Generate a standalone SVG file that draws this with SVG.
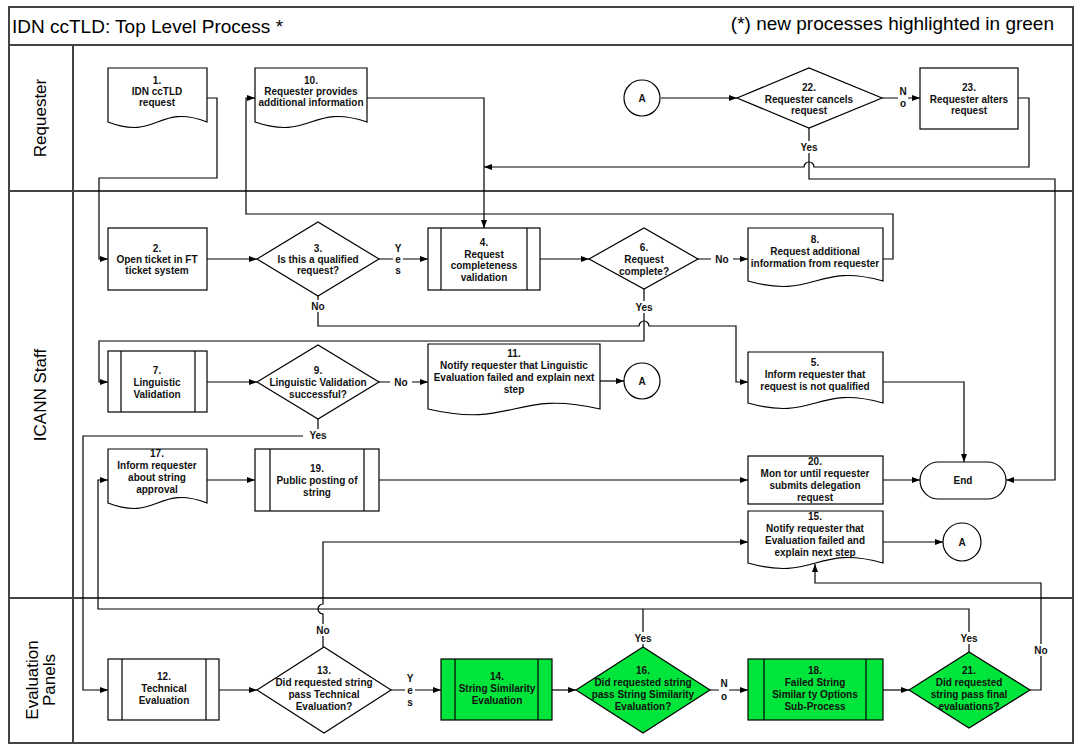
<svg xmlns="http://www.w3.org/2000/svg" width="1074" height="745" viewBox="0 0 1074 745">
<style>
.nd{fill:#fff;stroke:#000;stroke-width:1.2}
.gr{fill:#00e53b;stroke:#000;stroke-width:1.2}
.bar{fill:none;stroke:#000;stroke-width:1.2}
.ln{fill:none;stroke:#000;stroke-width:1.2}
.lane{stroke:#444;stroke-width:2;fill:none}
.t{font-family:"Liberation Sans",Arial,sans-serif;font-size:10px;font-weight:bold;text-anchor:middle;fill:#111}
.lb{fill:#fff;stroke:none}
.big{font-family:"Liberation Sans",Arial,sans-serif;font-size:19px;fill:#000}
.lanet{font-family:"Liberation Sans",Arial,sans-serif;font-size:17px;fill:#000;text-anchor:middle}
</style>
<defs>
<marker id="ah" viewBox="0 0 8 6" refX="8" refY="3" markerWidth="8" markerHeight="6" markerUnits="userSpaceOnUse" orient="auto"><path d="M0,0 L8,3 L0,6 z" fill="#000"/></marker>
</defs>
<rect x="0" y="0" width="1074" height="745" fill="#fff"/>
<g id="frame">
<rect x="9" y="7" width="1064" height="736" class="lane"/>
<line x1="9" y1="45" x2="1073" y2="45" class="lane"/>
<line x1="9" y1="191" x2="1073" y2="191" class="lane"/>
<line x1="9" y1="598" x2="1073" y2="598" class="lane"/>
<line x1="73" y1="45" x2="73" y2="743" class="lane"/>
<text x="12" y="33" class="big">IDN ccTLD: Top Level Process *</text>
<text x="1054" y="30" class="big" text-anchor="end">(*) new processes highlighted in green</text>
<text class="lanet" transform="translate(46,118) rotate(-90)">Requester</text>
<text class="lanet" transform="translate(46,395) rotate(-90)">ICANN Staff</text>
<text class="lanet" transform="translate(38,680) rotate(-90)">Evaluation</text>
<text class="lanet" transform="translate(55,680) rotate(-90)">Panels</text>
</g>
<g id="connectors">
<path class="ln" marker-end="url(#ah)" d="M207,98 H217 V178 H99 V259 H108"/>
<path class="ln" marker-end="url(#ah)" d="M207,259 H257"/>
<path class="ln" marker-end="url(#ah)" d="M379,259 H428"/>
<path class="ln" marker-end="url(#ah)" d="M367,98 H484 V228"/>
<path class="ln" marker-end="url(#ah)" d="M540,259 H589"/>
<path class="ln" marker-end="url(#ah)" d="M698,259 H748"/>
<path class="ln" marker-end="url(#ah)" d="M883,259 H893 V214 H246 V98 H255"/>
<path class="ln" marker-end="url(#ah)" d="M318,296 V326 H639 A5,5 0 0 1 649,326 H736 V382 H748"/>
<path class="ln" marker-end="url(#ah)" d="M644,289 V341 H99 V382 H108"/>
<path class="ln" marker-end="url(#ah)" d="M207,382 H257"/>
<path class="ln" marker-end="url(#ah)" d="M379,382 H428"/>
<path class="ln" marker-end="url(#ah)" d="M600,381 H624"/>
<path class="ln" marker-end="url(#ah)" d="M318,419 V436 H83 V690 H108"/>
<path class="ln" marker-end="url(#ah)" d="M883,382 H964 V462"/>
<path class="ln" marker-end="url(#ah)" d="M207,480 H255"/>
<path class="ln" marker-end="url(#ah)" d="M379,480 H748"/>
<path class="ln" marker-end="url(#ah)" d="M883,480 H920"/>
<path class="ln" marker-end="url(#ah)" d="M809,128 V179 H1055 V480 H1006"/>
<path class="ln" marker-end="url(#ah)" d="M1018,98 H1029 V167 H814 A5,5 0 0 0 804,167 H484"/>
<path class="ln" marker-end="url(#ah)" d="M661,98 H737"/>
<path class="ln" marker-end="url(#ah)" d="M882,98 H920"/>
<path class="ln" marker-end="url(#ah)" d="M883,542 H943"/>
<path class="ln" marker-end="url(#ah)" d="M323,647 V614 A5,5 0 0 1 323,604 V542 H748"/>
<path class="ln" marker-end="url(#ah)" d="M969,652 V609 H98 V480 H108"/>
<path class="ln" d="M643,647 V609"/>
<path class="ln" marker-end="url(#ah)" d="M1030,690 H1041 V583 H815 V564"/>
<path class="ln" marker-end="url(#ah)" d="M219,690 H257"/>
<path class="ln" marker-end="url(#ah)" d="M391,690 H441"/>
<path class="ln" marker-end="url(#ah)" d="M552,690 H576"/>
<path class="ln" marker-end="url(#ah)" d="M710,690 H748"/>
<path class="ln" marker-end="url(#ah)" d="M883,690 H909"/>
<g id="labels">
<rect class="lb" x="798" y="141" width="22" height="12"/><text class="t" x="809" y="150.5">Yes</text>
<rect class="lb" x="898" y="85" width="10" height="24"/><text class="t" x="903" y="95">N</text><text class="t" x="903" y="107">o</text>
<rect class="lb" x="393" y="241" width="10" height="35"/><text class="t" x="398" y="251.5">Y</text><text class="t" x="398" y="262.5">e</text><text class="t" x="398" y="273.5">s</text>
<rect class="lb" x="308" y="300" width="20" height="12"/><text class="t" x="318" y="309.5">No</text>
<rect class="lb" x="711" y="253" width="22" height="12"/><text class="t" x="722" y="262.5">No</text>
<rect class="lb" x="633" y="301" width="22" height="12"/><text class="t" x="644" y="310.5">Yes</text>
<rect class="lb" x="390" y="376" width="22" height="12"/><text class="t" x="401" y="385.5">No</text>
<rect class="lb" x="303" y="429" width="30" height="12"/><text class="t" x="318" y="438.5">Yes</text>
<rect class="lb" x="313" y="624" width="20" height="12"/><text class="t" x="323" y="633.5">No</text>
<rect class="lb" x="632" y="632" width="22" height="12"/><text class="t" x="643" y="641.5">Yes</text>
<rect class="lb" x="958" y="632" width="22" height="12"/><text class="t" x="969" y="641.5">Yes</text>
<rect class="lb" x="1031" y="644" width="20" height="12"/><text class="t" x="1041" y="653.5">No</text>
<rect class="lb" x="405" y="669" width="10" height="37"/><text class="t" x="410" y="681.5">Y</text><text class="t" x="410" y="693.5">e</text><text class="t" x="410" y="705.5">s</text>
<rect class="lb" x="719" y="676" width="10" height="25"/><text class="t" x="724" y="686.5">N</text><text class="t" x="724" y="699.5">o</text>
</g>
</g>
<g id="n1"><path class="nd" d="M108,68 H207 V122 C157.5,103 157.5,141 108,122 Z"/>
<text class="t" x="157" y="83.5">1.</text><text class="t" x="157" y="94.5">IDN ccTLD</text><text class="t" x="157" y="105.5">request</text></g>
<g id="n10"><path class="nd" d="M255,68 H367 V122 C311,103 311,141 255,122 Z"/>
<text class="t" x="311" y="83.5">10.</text><text class="t" x="311" y="94.5">Requester provides</text><text class="t" x="311" y="105.5">additional information</text></g>
<g id="nA1"><circle class="nd" cx="642" cy="98" r="18"/><text class="t" x="642" y="101.5">A</text></g>
<g id="n22"><path class="nd" d="M737,98 L809,68 L882,98 L809,128 Z"/>
<text class="t" x="809" y="90.5">22.</text><text class="t" x="809" y="102.5">Requester cancels</text><text class="t" x="809" y="113.5">request</text></g>
<g id="n23"><rect class="nd" x="920" y="68" width="98" height="61"/>
<text class="t" x="969" y="90.5">23.</text><text class="t" x="969" y="102.5">Requester alters</text><text class="t" x="969" y="113.5">request</text></g>
<g id="n2"><rect class="nd" x="108" y="228" width="99" height="62"/>
<text class="t" x="157" y="251.5">2.</text><text class="t" x="157" y="262.5">Open ticket in FT</text><text class="t" x="157" y="273.5">ticket system</text></g>
<g id="n3"><path class="nd" d="M257,259 L318,222 L379,259 L318,296 Z"/>
<text class="t" x="318" y="251.5">3.</text><text class="t" x="318" y="262.5">Is this a qualified</text><text class="t" x="318" y="273.5">request?</text></g>
<g id="n4"><rect class="nd" x="428" y="228" width="112" height="62"/><path class="bar" d="M441,228 V290 M527,228 V290"/>
<text class="t" x="484" y="245.5">4.</text><text class="t" x="484" y="257.5">Request</text><text class="t" x="484" y="268.5">completeness</text><text class="t" x="484" y="280.5">validation</text></g>
<g id="n6"><path class="nd" d="M589,259 L644,228 L698,259 L644,289 Z"/>
<text class="t" x="644" y="250.5">6.</text><text class="t" x="644" y="262.5">Request</text><text class="t" x="644" y="274.5">complete?</text></g>
<g id="n8"><path class="nd" d="M748,228 H883 V281 C815.5,262 815.5,300 748,281 Z"/>
<text class="t" x="815" y="242.5">8.</text><text class="t" x="815" y="254.5">Request additional</text><text class="t" x="815" y="266.5">information from requester</text></g>
<g id="n7"><rect class="nd" x="108" y="351" width="99" height="61"/><path class="bar" d="M121,351 V412 M195,351 V412"/>
<text class="t" x="157" y="373.5">7.</text><text class="t" x="157" y="385.5">Linguistic</text><text class="t" x="157" y="397.5">Validation</text></g>
<g id="n9"><path class="nd" d="M257,382 L318,345 L379,382 L318,419 Z"/>
<text class="t" x="318" y="373.5">9.</text><text class="t" x="318" y="385.5">Linguistic Validation</text><text class="t" x="318" y="397.5">successful?</text></g>
<g id="n11"><path class="nd" d="M428,344 H600 V409 C514,389 514,429 428,409 Z"/>
<text class="t" x="514" y="356.5">11.</text><text class="t" x="514" y="368.5">Notify requester that Linguistic</text><text class="t" x="514" y="380.5">Evaluation failed and explain next</text><text class="t" x="514" y="392.5">step</text></g>
<g id="nA2"><circle class="nd" cx="642" cy="381" r="18"/><text class="t" x="642" y="384.5">A</text></g>
<g id="n5"><path class="nd" d="M748,352 H883 V403 C815.5,384 815.5,422 748,403 Z"/>
<text class="t" x="815" y="365.5">5.</text><text class="t" x="815" y="377.5">Inform requester that</text><text class="t" x="815" y="389.5">request is not qualified</text></g>
<g id="n17"><path class="nd" d="M108,449 H207 V503 C157.5,484 157.5,522 108,503 Z"/>
<text class="t" x="157" y="456.5">17.</text><text class="t" x="157" y="468.5">Inform requester</text><text class="t" x="157" y="480.5">about string</text><text class="t" x="157" y="492.5">approval</text></g>
<g id="n19"><rect class="nd" x="255" y="449" width="124" height="62"/><path class="bar" d="M270,449 V511 M364,449 V511"/>
<text class="t" x="317" y="471.5">19.</text><text class="t" x="317" y="483.5">Public posting of</text><text class="t" x="317" y="495.5">string</text></g>
<g id="n20"><rect class="nd" x="748" y="456" width="135" height="48"/>
<text class="t" x="815" y="464.5">20.</text><text class="t" x="815" y="476.5">Mon tor until requester</text><text class="t" x="815" y="488.5">submits delegation</text><text class="t" x="815" y="500.5">request</text></g>
<g id="nEnd"><rect class="nd" x="920" y="462" width="86" height="37" rx="18.5" ry="18.5"/><text class="t" x="963" y="483.5">End</text></g>
<g id="n15"><path class="nd" d="M748,511 H883 V563 C815.5,544 815.5,582 748,563 Z"/>
<text class="t" x="815" y="519.5">15.</text><text class="t" x="815" y="531.5">Notify requester that</text><text class="t" x="815" y="543.5">Evaluation failed and</text><text class="t" x="815" y="555.5">explain next step</text></g>
<g id="nA3"><circle class="nd" cx="962" cy="542" r="19"/><text class="t" x="962" y="545.5">A</text></g>
<g id="n12"><rect class="nd" x="108" y="659" width="111" height="61"/><path class="bar" d="M122,659 V720 M206,659 V720"/>
<text class="t" x="164" y="679.5">12.</text><text class="t" x="164" y="691.5">Technical</text><text class="t" x="164" y="703.5">Evaluation</text></g>
<g id="n13"><path class="nd" d="M257,690 L324,647 L391,690 L324,733 Z"/>
<text class="t" x="324" y="673.5">13.</text><text class="t" x="324" y="685.5">Did requested string</text><text class="t" x="324" y="697.5">pass Technical</text><text class="t" x="324" y="709.5">Evaluation?</text></g>
<g id="n14"><rect class="gr" x="441" y="659" width="111" height="61"/><path class="bar" d="M455,659 V720 M538,659 V720"/>
<text class="t" x="497" y="679.5">14.</text><text class="t" x="497" y="691.5">String Similarity</text><text class="t" x="497" y="703.5">Evaluation</text></g>
<g id="n16"><path class="gr" d="M576,690 L643,647 L710,690 L643,733 Z"/>
<text class="t" x="643" y="673.5">16.</text><text class="t" x="643" y="685.5">Did requested string</text><text class="t" x="643" y="697.5">pass String Similarity</text><text class="t" x="643" y="709.5">Evaluation?</text></g>
<g id="n18"><rect class="gr" x="748" y="659" width="135" height="61"/><path class="bar" d="M764,659 V720 M866,659 V720"/>
<text class="t" x="815" y="673.5">18.</text><text class="t" x="815" y="685.5">Failed String</text><text class="t" x="815" y="697.5">Similar ty Options</text><text class="t" x="815" y="709.5">Sub-Process</text></g>
<g id="n21"><path class="gr" d="M909,690 L969,652 L1030,690 L969,728 Z"/>
<text class="t" x="969" y="673.5">21.</text><text class="t" x="969" y="685.5">Did requested</text><text class="t" x="969" y="697.5">string pass final</text><text class="t" x="969" y="709.5">evaluations?</text></g>
</svg>
